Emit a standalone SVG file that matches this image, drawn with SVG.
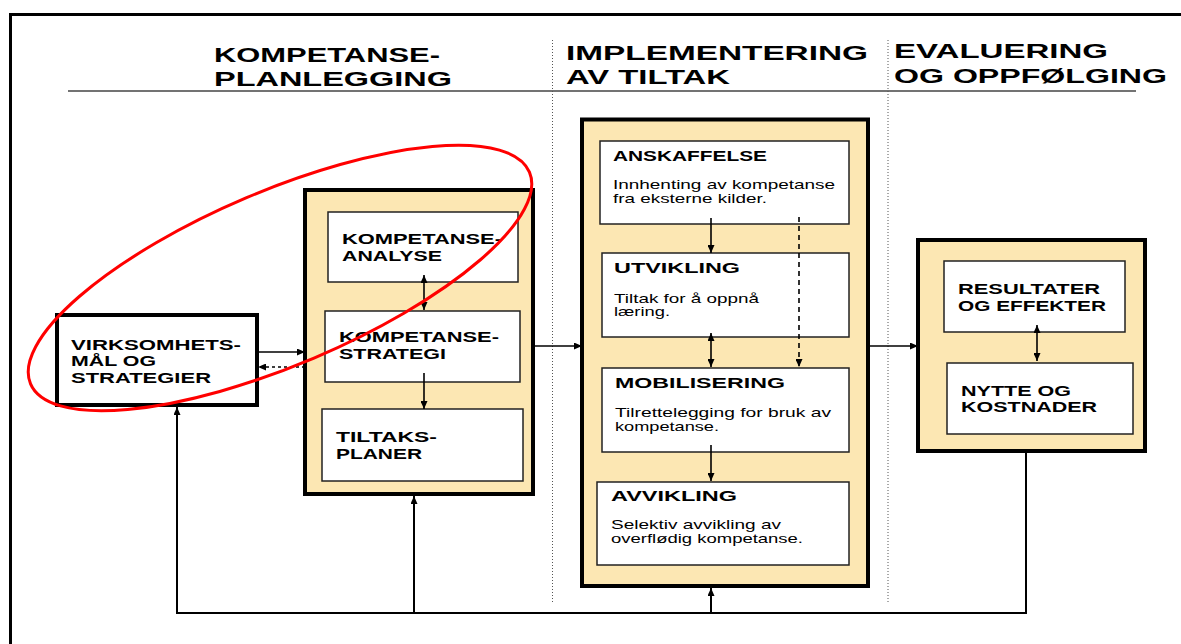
<svg xmlns="http://www.w3.org/2000/svg" width="1181" height="644" viewBox="0 0 1181 644">
<defs>
<style>
.h{font-family:"Liberation Sans",Arial,sans-serif;font-weight:bold;font-size:21px;fill:#000}
.b{font-family:"Liberation Sans",Arial,sans-serif;font-weight:bold;font-size:15px;fill:#000}
.d{font-family:"Liberation Sans",Arial,sans-serif;font-size:13px;fill:#000}
.outer{fill:#FCE7B3;stroke:#000;stroke-width:4}
.inner{fill:#fff;stroke:#222;stroke-width:1.5}
.main{fill:#fff;stroke:#000;stroke-width:4}
.c{fill:none;stroke:#000;stroke-width:1.6}
.fb{fill:none;stroke:#000;stroke-width:2}
.div{fill:none;stroke:#555;stroke-width:1;stroke-dasharray:1 2}
</style>
<marker id="ah" viewBox="0 0 8 7" refX="8" refY="3.5" markerWidth="8" markerHeight="7" markerUnits="userSpaceOnUse" orient="auto-start-reverse">
<path d="M0,0 L8,3.5 L0,7 z" fill="#000"/>
</marker>
</defs>
<rect width="1181" height="644" fill="#fff"/>
<path d="M10.5,644 V14.5 H1181" fill="none" stroke="#000" stroke-width="3"/>
<line x1="68" y1="91" x2="1136" y2="91" stroke="#444" stroke-width="1.5"/>
<line class="div" x1="552.5" y1="40" x2="552.5" y2="604"/>
<line class="div" x1="888" y1="40" x2="888" y2="604"/>

<g id="headings">
<text class="h" x="214" y="62" textLength="226" lengthAdjust="spacingAndGlyphs">KOMPETANSE-</text>
<text class="h" x="214" y="86" textLength="238" lengthAdjust="spacingAndGlyphs">PLANLEGGING</text>
<text class="h" x="566" y="60" textLength="302" lengthAdjust="spacingAndGlyphs">IMPLEMENTERING</text>
<text class="h" x="566" y="84" textLength="164" lengthAdjust="spacingAndGlyphs">AV TILTAK</text>
<text class="h" x="894" y="58" textLength="214" lengthAdjust="spacingAndGlyphs">EVALUERING</text>
<text class="h" x="894" y="83" textLength="273" lengthAdjust="spacingAndGlyphs">OG OPPFØLGING</text>
</g>

<g id="virksomhet">
<rect class="main" x="57" y="315" width="200" height="90"/>
<text class="b" x="71" y="350" textLength="170" lengthAdjust="spacingAndGlyphs">VIRKSOMHETS-</text>
<text class="b" x="71" y="366" textLength="85" lengthAdjust="spacingAndGlyphs">MÅL OG</text>
<text class="b" x="71" y="383" textLength="140" lengthAdjust="spacingAndGlyphs">STRATEGIER</text>
</g>

<g id="planlegging">
<rect class="outer" x="305" y="190" width="228" height="304"/>
<g id="analyse">
<rect class="inner" x="328" y="212" width="190" height="70"/>
<text class="b" x="342" y="244" textLength="160" lengthAdjust="spacingAndGlyphs">KOMPETANSE-</text>
<text class="b" x="342" y="261" textLength="100" lengthAdjust="spacingAndGlyphs">ANALYSE</text>
</g>
<g id="strategi">
<rect class="inner" x="325" y="311" width="195" height="71"/>
<text class="b" x="339" y="342" textLength="160" lengthAdjust="spacingAndGlyphs">KOMPETANSE-</text>
<text class="b" x="339" y="359" textLength="107" lengthAdjust="spacingAndGlyphs">STRATEGI</text>
</g>
<g id="tiltaksplaner">
<rect class="inner" x="322" y="409" width="201" height="72"/>
<text class="b" x="336" y="442" textLength="101" lengthAdjust="spacingAndGlyphs">TILTAKS-</text>
<text class="b" x="336" y="459" textLength="86" lengthAdjust="spacingAndGlyphs">PLANER</text>
</g>
</g>

<g id="implementering">
<rect class="outer" x="582" y="119.5" width="286" height="466.5"/>
<g id="anskaffelse">
<rect class="inner" x="600" y="141" width="249" height="83"/>
<text class="b" x="613" y="161" textLength="154" lengthAdjust="spacingAndGlyphs">ANSKAFFELSE</text>
<text class="d" x="613" y="189" textLength="222" lengthAdjust="spacingAndGlyphs">Innhenting av kompetanse</text>
<text class="d" x="613" y="203" textLength="154" lengthAdjust="spacingAndGlyphs">fra eksterne kilder.</text>
</g>
<g id="utvikling">
<rect class="inner" x="602" y="253" width="247" height="84"/>
<text class="b" x="614" y="273" textLength="126" lengthAdjust="spacingAndGlyphs">UTVIKLING</text>
<text class="d" x="614" y="303" textLength="145" lengthAdjust="spacingAndGlyphs">Tiltak for å oppnå</text>
<text class="d" x="614" y="316" textLength="56" lengthAdjust="spacingAndGlyphs">læring.</text>
</g>
<g id="mobilisering">
<rect class="inner" x="602" y="368" width="247" height="84"/>
<text class="b" x="615" y="388" textLength="170" lengthAdjust="spacingAndGlyphs">MOBILISERING</text>
<text class="d" x="615" y="417" textLength="216" lengthAdjust="spacingAndGlyphs">Tilrettelegging for bruk av</text>
<text class="d" x="615" y="431" textLength="104" lengthAdjust="spacingAndGlyphs">kompetanse.</text>
</g>
<g id="avvikling">
<rect class="inner" x="597" y="482" width="252" height="83"/>
<text class="b" x="611" y="501" textLength="126" lengthAdjust="spacingAndGlyphs">AVVIKLING</text>
<text class="d" x="611" y="529" textLength="170" lengthAdjust="spacingAndGlyphs">Selektiv avvikling av</text>
<text class="d" x="611" y="543" textLength="192" lengthAdjust="spacingAndGlyphs">overflødig kompetanse.</text>
</g>
</g>

<g id="evaluering">
<rect class="outer" x="918" y="240" width="227" height="211"/>
<g id="resultater">
<rect class="inner" x="944" y="261" width="181" height="71"/>
<text class="b" x="958" y="294" textLength="142" lengthAdjust="spacingAndGlyphs">RESULTATER</text>
<text class="b" x="958" y="311" textLength="148" lengthAdjust="spacingAndGlyphs">OG EFFEKTER</text>
</g>
<g id="nytte">
<rect class="inner" x="947" y="363" width="186" height="71"/>
<text class="b" x="961" y="396" textLength="110" lengthAdjust="spacingAndGlyphs">NYTTE OG</text>
<text class="b" x="961" y="412" textLength="136" lengthAdjust="spacingAndGlyphs">KOSTNADER</text>
</g>
</g>

<g id="connectors">
<line class="c" x1="257" y1="352" x2="305" y2="352" stroke-width="2" marker-end="url(#ah)"/>
<line class="c" x1="305" y1="367" x2="258" y2="367" stroke-width="3" stroke-dasharray="3 3" marker-end="url(#ah)"/>
<line class="c" x1="424" y1="275" x2="424" y2="310" marker-start="url(#ah)" marker-end="url(#ah)"/>
<line class="c" x1="424" y1="373" x2="424" y2="409" marker-end="url(#ah)"/>
<line class="c" x1="533" y1="346" x2="582" y2="346" stroke-width="2" marker-end="url(#ah)"/>
<line class="c" x1="711" y1="218" x2="711" y2="253" marker-end="url(#ah)"/>
<line class="c" x1="799" y1="217" x2="799" y2="367" stroke-dasharray="5 4" marker-end="url(#ah)"/>
<line class="c" x1="711" y1="333" x2="711" y2="367" marker-start="url(#ah)" marker-end="url(#ah)"/>
<line class="c" x1="711" y1="445" x2="711" y2="481" marker-end="url(#ah)"/>
<line class="c" x1="868" y1="346" x2="918" y2="346" stroke-width="2" marker-end="url(#ah)"/>
<line class="c" x1="1037" y1="325" x2="1037" y2="361" marker-start="url(#ah)" marker-end="url(#ah)"/>
<polyline class="fb" points="1026,452 1026,613 177,613 177,407" marker-end="url(#ah)"/>
<line class="fb" x1="414" y1="613" x2="414" y2="496" marker-end="url(#ah)"/>
<line class="fb" x1="711" y1="613" x2="711" y2="588" marker-end="url(#ah)"/>
</g>

<ellipse cx="280" cy="278" rx="271" ry="87" transform="rotate(-23 280 278)" fill="none" stroke="#FF0000" stroke-width="3"/>
</svg>
